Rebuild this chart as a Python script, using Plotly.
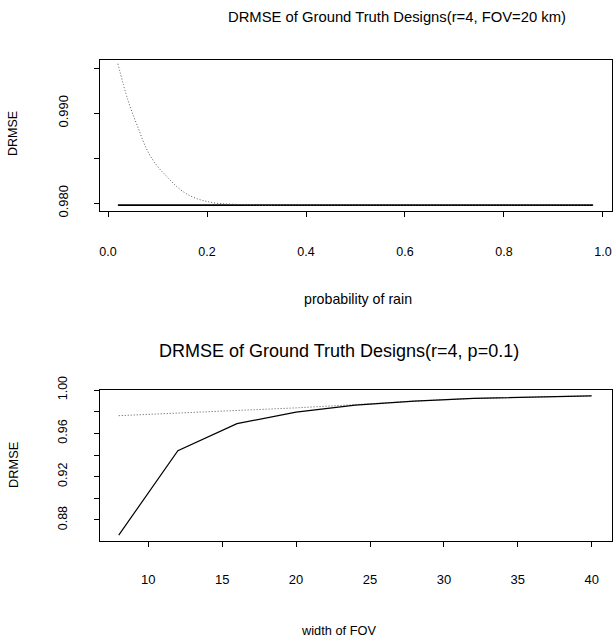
import plotly.graph_objects as go

# ---- data: top panel (r=4, FOV=20 km) ----
p_rain = [0.02, 0.04, 0.06, 0.08, 0.10, 0.12, 0.14, 0.16, 0.18, 0.20, 0.22,
          0.25, 0.30, 0.40, 0.50, 0.60, 0.70, 0.80, 0.90, 0.98]
drmse_dotted_top = [0.9955, 0.9915, 0.9885, 0.9858, 0.9841, 0.9829, 0.9818, 0.9810,
                    0.9805, 0.9802, 0.9800, 0.9799, 0.9798, 0.9798, 0.9798, 0.9798,
                    0.9798, 0.9798, 0.9798, 0.9798]
drmse_solid_top = [0.9798] * len(p_rain)

# ---- data: bottom panel (r=4, p=0.1) ----
fov_width = [8, 12, 16, 20, 24, 28, 32, 36, 40]
drmse_solid_bot = [0.866, 0.944, 0.969, 0.9795, 0.986, 0.9898, 0.9922, 0.9937, 0.9946]
drmse_dotted_bot = [0.9763, 0.9785, 0.981, 0.9835, 0.9865, 0.9898, 0.9922, 0.9937, 0.9947]

top_xticks = [0.0, 0.2, 0.4, 0.6, 0.8, 1.0]
top_xtext = ["0.0", "0.2", "0.4", "0.6", "0.8", "1.0"]
top_yticks = [0.980, 0.985, 0.990, 0.995]
top_ytext = ["0.980", "", "0.990", ""]
bot_xticks = [10, 15, 20, 25, 30, 35, 40]
bot_xtext = ["10", "15", "20", "25", "30", "35", "40"]
bot_yticks = [0.88, 0.90, 0.92, 0.94, 0.96, 0.98, 1.00]
bot_ytext = ["0.88", "", "0.92", "", "0.96", "", "1.00"]

W, H = 613, 638
FONT = "Liberation Sans, Arial, Helvetica, sans-serif"

def py(y):  # page pixel y (from top) -> paper
    return 1 - y / H

def px(x):  # page pixel x -> paper
    return x / W

fig = go.Figure()
fig.add_trace(go.Scatter(x=p_rain, y=drmse_solid_top, mode="lines",
                         line=dict(color="black", width=1.8), xaxis="x", yaxis="y"))
fig.add_trace(go.Scatter(x=p_rain, y=drmse_dotted_top, mode="lines", line_shape="spline",
                         line=dict(color="#555555", width=1, dash="1px,2px"),
                         xaxis="x", yaxis="y"))
fig.add_trace(go.Scatter(x=fov_width, y=drmse_dotted_bot, mode="lines",
                         line=dict(color="#555555", width=1, dash="1px,2px"),
                         xaxis="x2", yaxis="y2"))
fig.add_trace(go.Scatter(x=fov_width, y=drmse_solid_bot, mode="lines",
                         line=dict(color="black", width=1.2), xaxis="x2", yaxis="y2"))

axis_common = dict(showgrid=False, zeroline=False, showline=True, linecolor="black",
                   linewidth=1, mirror=True, ticks="outside", ticklen=5, tickcolor="black",
                   automargin=False)
tf = dict(family=FONT, size=12.5, color="black")

fig.update_layout(
    width=W, height=H, margin=dict(l=0, r=0, t=0, b=0, autoexpand=False),
    paper_bgcolor="white", plot_bgcolor="white", showlegend=False,
    xaxis=dict(domain=[px(100), px(612)], range=[-0.01616, 1.0182], anchor="y",
               tickvals=top_xticks, ticktext=top_xtext, ticklabelstandoff=24,
               tickfont=tf, **axis_common),
    yaxis=dict(domain=[py(211), py(60)], range=[0.97914, 0.99592], anchor="x",
               tickvals=top_yticks, ticktext=top_ytext, tickangle=-90,
               ticklabelstandoff=21, tickfont=dict(tf, size=13), **axis_common),
    xaxis2=dict(domain=[px(100), px(612)], range=[6.732, 41.373], anchor="y2",
                tickvals=bot_xticks, ticktext=bot_xtext, ticklabelstandoff=21,
                tickfont=dict(tf, size=13), **axis_common),
    yaxis2=dict(domain=[py(541), py(390)], range=[0.86061, 1.0], anchor="x2",
                tickvals=bot_yticks, ticktext=bot_ytext, tickangle=-90,
                ticklabelstandoff=22, tickfont=tf, **axis_common),
)

annotations = [
    dict(text="DRMSE of Ground Truth Designs(r=4, FOV=20 km)", x=px(397), y=py(17),
         size=14.8),
    dict(text="DRMSE of Ground Truth Designs(r=4, p=0.1)", x=px(339), y=py(351),
         size=18),
    dict(text="DRMSE", x=px(13), y=py(134), textangle=-90, size=12.5),
    dict(text="DRMSE", x=px(13), y=py(465), textangle=-90, size=12.8),
    dict(text="probability of rain", x=px(358), y=py(299), size=14.2),
    dict(text="width of FOV", x=px(338), y=py(630), size=12.8),
]
for a in annotations:
    size = a.pop("size")
    fig.add_annotation(xref="paper", yref="paper", showarrow=False,
                       xanchor="center", yanchor="middle",
                       font=dict(family=FONT, size=size, color="black"), **a)

# remove the default 8px page margin so the 613x638 figure fills the window exactly
post = "document.body.style.margin='0';document.body.style.padding='0';"

fig.write_html("out.html", post_script=post, config={"displayModeBar": False})
